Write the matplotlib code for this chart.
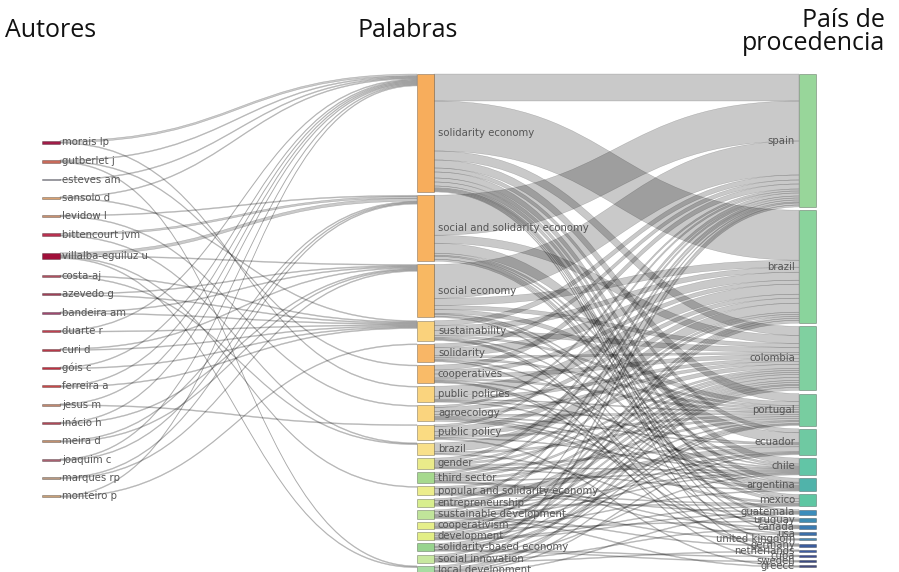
import numpy as np
import matplotlib.pyplot as plt
from matplotlib.path import Path
from matplotlib.patches import PathPatch, Rectangle

# nodos de cada columna
autores = ["morais lp", "gutberlet j", "esteves am", "sansolo d", "levidow l",
           "bittencourt jvm", "villalba-eguiluz u", "costa-aj", "azevedo g",
           "bandeira am", "duarte r", "curi d", "góis c", "ferreira a",
           "jesus m", "inácio h", "meira d", "joaquim c", "marques rp", "monteiro p"]
autor_colores = ["#a01c48", "#c86a5a", "#a4a4b4", "#d8a070", "#c89070",
                 "#b83050", "#a0103a", "#b05060", "#a04058", "#a04870",
                 "#c04050", "#b83848", "#c03040", "#c84848", "#c08870",
                 "#b04858", "#c09070", "#a86070", "#b89880", "#c8a078"]

palabras = ["solidarity economy", "social and solidarity economy", "social economy",
            "sustainability", "solidarity", "cooperatives", "public policies",
            "agroecology", "public policy", "brazil", "gender", "third sector",
            "popular and solidarity economy", "entrepreneurship",
            "sustainable development", "cooperativism", "development",
            "solidarity-based economy", "social innovation", "local development"]
palabra_colores = ["#f7ad5c", "#f8b260", "#f8b862", "#fad27c", "#f8b666", "#f9bb68",
                   "#fad47e", "#fad47e", "#fadb82", "#f8e08a", "#eaeb8a", "#a6d98e",
                   "#eced8c", "#d8ee8e", "#c0e49a", "#e6ef8a", "#e2ee86", "#98d48e",
                   "#c8e8a0", "#a8dca2"]

paises = ["spain", "brazil", "colombia", "portugal", "ecuador", "chile", "argentina",
          "mexico", "guatemala", "uruguay", "canada", "usa", "united kingdom",
          "germany", "netherlands", "cuba", "sweden", "greece"]
pais_colores = ["#98d69a", "#8ad49c", "#80d0a0", "#78cda0", "#6fc9a2", "#62c5a6",
                "#50b3aa", "#5ec6a2", "#3c8dbb", "#3f8cb2", "#3a7bb2", "#3b6ea8",
                "#4a88b2", "#3a5c9e", "#3d5ba0", "#3f4e92", "#3b4a82", "#454d80"]

# autor -> palabra (peso)
enlaces_ap = [
    ("morais lp", "solidarity economy", 2), ("morais lp", "public policies", 1),
    ("gutberlet j", "solidarity economy", 1), ("gutberlet j", "cooperatives", 1),
    ("gutberlet j", "local development", 1),
    ("esteves am", "solidarity economy", 1),
    ("sansolo d", "solidarity economy", 1), ("sansolo d", "sustainability", 1),
    ("levidow l", "agroecology", 1), ("levidow l", "social and solidarity economy", 1),
    ("bittencourt jvm", "social and solidarity economy", 2), ("bittencourt jvm", "brazil", 1),
    ("villalba-eguiluz u", "social and solidarity economy", 3),
    ("villalba-eguiluz u", "popular and solidarity economy", 1),
    ("villalba-eguiluz u", "social economy", 1), ("villalba-eguiluz u", "local development", 1),
    ("costa-aj", "sustainability", 1), ("costa-aj", "brazil", 1),
    ("azevedo g", "sustainability", 1), ("azevedo g", "social economy", 1),
    ("bandeira am", "sustainability", 1), ("bandeira am", "social economy", 1),
    ("duarte r", "sustainability", 1), ("duarte r", "solidarity economy", 1),
    ("curi d", "sustainability", 1), ("curi d", "social economy", 1),
    ("góis c", "sustainability", 1), ("góis c", "solidarity economy", 1),
    ("ferreira a", "sustainability", 1), ("ferreira a", "solidarity economy", 1),
    ("jesus m", "solidarity economy", 1), ("jesus m", "public policy", 1),
    ("inácio h", "solidarity economy", 1), ("inácio h", "social economy", 1),
    ("meira d", "social and solidarity economy", 1), ("meira d", "social economy", 1),
    ("joaquim c", "solidarity economy", 1), ("joaquim c", "social and solidarity economy", 1),
    ("marques rp", "social and solidarity economy", 1), ("marques rp", "social economy", 1),
    ("monteiro p", "solidarity economy", 1), ("monteiro p", "solidarity", 1),
]

# palabra -> país, en el orden de "paises"
flujos = {
    "solidarity economy":             [27, 50, 9, 8, 4, 6, 4, 4, 0, 2, 1, 1, 0, 1, 0, 1, 0, 0],
    "social and solidarity economy":  [40, 0, 8, 0, 10, 2, 1, 3, 2, 0, 0, 0, 0, 0, 0, 0, 0, 0],
    "social economy":                 [34, 7, 4, 4, 0, 1, 2, 0, 0, 0, 1, 0, 0, 0, 0, 0, 0, 0],
    "sustainability":                 [5, 5, 5, 2, 0, 0, 1, 0, 0, 0, 0, 0, 1, 0, 1, 0, 0, 0],
    "solidarity":                     [4, 8, 2, 2, 0, 0, 1, 0, 0, 0, 0, 0, 0, 0, 0, 0, 1, 0],
    "cooperatives":                   [5, 4, 4, 2, 0, 1, 0, 0, 0, 0, 0, 1, 0, 1, 0, 0, 0, 0],
    "public policies":                [0, 10, 3, 1, 1, 0, 1, 0, 0, 0, 0, 0, 0, 0, 0, 0, 0, 0],
    "agroecology":                    [2, 4, 3, 2, 1, 1, 1, 2, 0, 0, 0, 0, 0, 0, 0, 0, 0, 0],
    "public policy":                  [2, 5, 4, 2, 0, 1, 0, 0, 0, 0, 0, 0, 0, 0, 0, 0, 0, 1],
    "brazil":                         [0, 9, 0, 2, 0, 0, 0, 0, 0, 1, 0, 0, 0, 0, 0, 0, 0, 0],
    "gender":                         [3, 2, 2, 0, 2, 1, 1, 0, 0, 0, 0, 0, 0, 0, 0, 0, 0, 0],
    "third sector":                   [2, 2, 2, 2, 0, 1, 0, 0, 0, 0, 1, 1, 0, 0, 0, 0, 0, 0],
    "popular and solidarity economy": [0, 0, 2, 0, 5, 0, 0, 1, 1, 0, 0, 0, 0, 0, 0, 0, 0, 0],
    "entrepreneurship":               [2, 0, 3, 0, 0, 1, 0, 1, 0, 0, 0, 0, 1, 0, 0, 0, 0, 0],
    "sustainable development":        [2, 0, 3, 1, 0, 1, 0, 0, 0, 0, 0, 0, 0, 1, 0, 0, 0, 1],
    "cooperativism":                  [0, 2, 2, 0, 1, 0, 1, 0, 0, 1, 0, 0, 0, 0, 0, 0, 0, 0],
    "development":                    [1, 2, 2, 0, 1, 0, 0, 1, 1, 0, 0, 0, 0, 0, 0, 0, 0, 0],
    "solidarity-based economy":       [0, 3, 1, 2, 0, 0, 0, 0, 0, 0, 0, 0, 0, 0, 0, 1, 1, 0],
    "social innovation":              [2, 0, 2, 1, 0, 1, 0, 0, 0, 0, 1, 0, 0, 0, 1, 0, 0, 0],
    "local development":              [2, 0, 3, 1, 1, 0, 0, 0, 1, 0, 0, 0, 0, 0, 0, 0, 0, 0],
}

# --- geometría (en píxeles de la figura) ---
X_AUT = (42, 60)
X_PAL = (417, 434)
X_PAIS = (799, 816)
ARRIBA = 74
HUECO = 3.2

enlaces_pp = [(p, c, v) for p in palabras for c, v in zip(paises, flujos[p]) if v > 0]

h_aut = {a: sum(v for s, t, v in enlaces_ap if s == a) for a in autores}
h_pal = {p: max(sum(flujos[p]), sum(v for s, t, v in enlaces_ap if t == p)) for p in palabras}
h_pais = {c: sum(flujos[p][i] for p in palabras) for i, c in enumerate(paises)}


def ubicar(nombres, alturas, y0, hueco):
    pos = {}
    y = y0
    for n in nombres:
        pos[n] = (y, y + alturas[n])
        y += alturas[n] + hueco
    return pos


pos_aut = ubicar(autores, h_aut, 140.5,
                 (497.5 - 140.5 - sum(h_aut.values())) / (len(autores) - 1))
pos_pal = ubicar(palabras, h_pal, ARRIBA, HUECO)
pos_pais = ubicar(paises, h_pais, ARRIBA, HUECO)


def centro(p):
    return (p[0] + p[1]) / 2


def cinta(ax, x0, x1, s0, s1, t0, t1):
    xm = (x0 + x1) / 2
    verts = [(x0, s0), (xm, s0), (xm, t0), (x1, t0), (x1, t1),
             (xm, t1), (xm, s1), (x0, s1), (x0, s0)]
    codes = [Path.MOVETO, Path.CURVE4, Path.CURVE4, Path.CURVE4, Path.LINETO,
             Path.CURVE4, Path.CURVE4, Path.CURVE4, Path.CLOSEPOLY]
    ax.add_patch(PathPatch(Path(verts, codes), facecolor=(0, 0, 0, 0.21),
                           edgecolor=(0, 0, 0, 0.22), lw=0.35, zorder=1))


def dibujar_enlaces(ax, enlaces, pos_s, pos_t, x0, x1):
    off_s = {k: v[0] for k, v in pos_s.items()}
    off_t = {k: v[0] for k, v in pos_t.items()}
    tramo_s = {}
    for s, t, v in sorted(enlaces, key=lambda e: centro(pos_t[e[1]])):
        tramo_s[(s, t)] = (off_s[s], off_s[s] + v)
        off_s[s] += v
    for s, t, v in sorted(enlaces, key=lambda e: centro(pos_s[e[0]])):
        a, b = tramo_s[(s, t)]
        cinta(ax, x0, x1, a, b, off_t[t], off_t[t] + v)
        off_t[t] += v


fig = plt.figure(figsize=(8.99, 5.72), dpi=100)
ax = fig.add_axes([0, 0, 1, 1])
ax.set_xlim(0, 899)
ax.set_ylim(572, 0)
ax.axis("off")

dibujar_enlaces(ax, enlaces_ap, pos_aut, pos_pal, X_AUT[1], X_PAL[0])
dibujar_enlaces(ax, enlaces_pp, pos_pal, pos_pais, X_PAL[1], X_PAIS[0])

for nombres, pos, colores, xs in [(autores, pos_aut, autor_colores, X_AUT),
                                  (palabras, pos_pal, palabra_colores, X_PAL),
                                  (paises, pos_pais, pais_colores, X_PAIS)]:
    for n, col in zip(nombres, colores):
        y0, y1 = pos[n]
        ax.add_patch(Rectangle((xs[0], y0), xs[1] - xs[0], y1 - y0, facecolor=col,
                               edgecolor=(0, 0, 0, 0.3), lw=0.6, zorder=2))

etq = dict(fontsize=7.3, color="#555555", va="center", zorder=3)
for a in autores:
    ax.text(X_AUT[1] + 2, centro(pos_aut[a]), a, ha="left", **etq)
for p in palabras:
    ax.text(X_PAL[1] + 4, centro(pos_pal[p]), p, ha="left", **etq)
for c in paises:
    ax.text(X_PAIS[0] - 4, centro(pos_pais[c]), c, ha="right", **etq)

tit = dict(fontsize=18, family="Open Sans", color="#111111")
ax.text(5, 37, "Autores", ha="left", va="baseline", **tit)
ax.text(357, 37, "Palabras", ha="left", va="baseline", **tit)
ax.text(885, 27, "País de", ha="right", va="baseline", **tit)
ax.text(885, 50, "procedencia", ha="right", va="baseline", **tit)

fig.savefig("out.png", dpi=100)
